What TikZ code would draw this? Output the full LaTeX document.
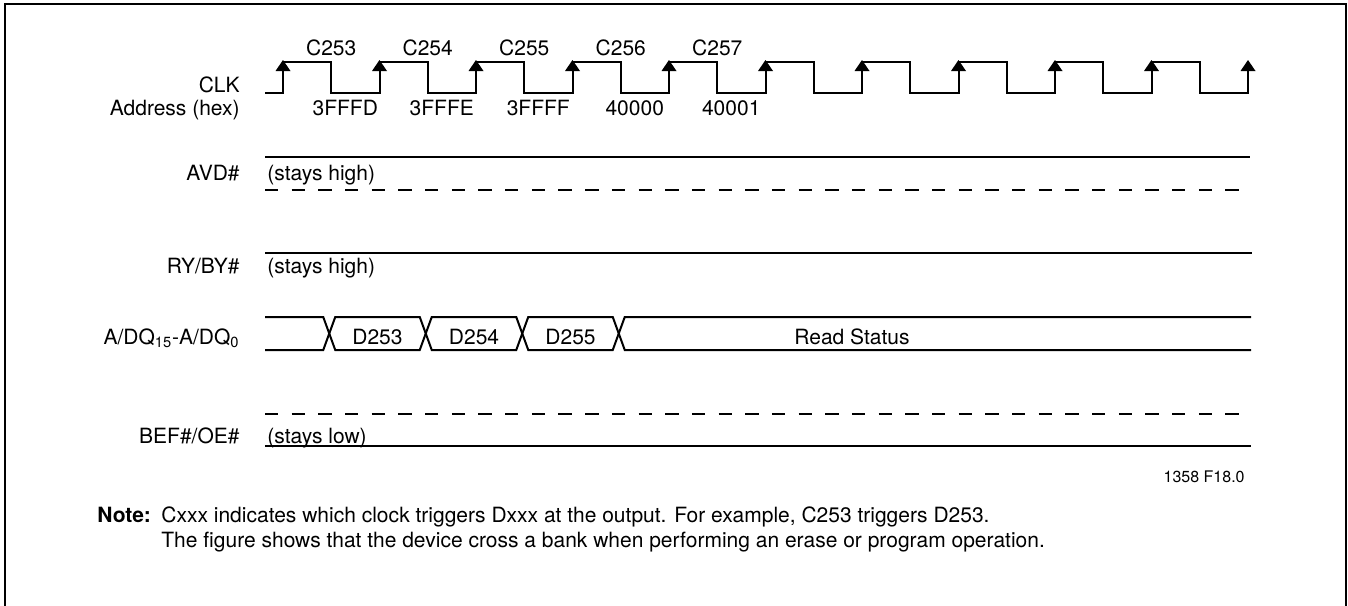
\documentclass[tikz,border=0pt]{standalone}
\usepackage{fontspec}
\setmainfont{TeX Gyre Heros}
\begin{document}
\begin{tikzpicture}[x=0.5pt,y=-0.5pt,
  sig/.style={line width=1pt,line join=miter},
  lbl/.style={font=\fontsize{10.5}{12}\selectfont, inner sep=0pt},
  small/.style={font=\fontsize{8}{10}\selectfont, inner sep=0pt},
  dashsig/.style={line width=1pt,dash pattern=on 6.67pt off 6.67pt},
  arrowtip/.style={fill=black}]
\useasboundingbox (0,0) rectangle (1348,605);
% frame
\draw[line width=1.3pt] (5,612) -- (5,4) -- (1346,4) -- (1346,612);

% signal labels
\node[lbl,anchor=base east] (clk) at (240,92) {CLK};
\node[lbl,anchor=base east] (addr) at (240,115) {Address (hex)};
\node[lbl,anchor=base east] (avd) at (240,180) {AVD\#};
\node[lbl,anchor=base east] (ry) at (240,273) {RY/BY\#};
\node[lbl,anchor=base east] (adq) at (240,344) {A/DQ\textsubscript{15}-A/DQ\textsubscript{0}};
\node[lbl,anchor=base east] (bef) at (240,443) {BEF\#/OE\#};

% clock
\draw[sig] (265,93)
  foreach \i in {0,...,9} { -- ({283+96.5*\i},93) -- ({283+96.5*\i},62) -- ({331.25+96.5*\i},62) -- ({331.25+96.5*\i},93) }
  -- (1248,93) -- (1248,64);
\foreach \i in {0,...,10}
  \fill[arrowtip] ({283+96.5*\i},60) -- ++(-7.5,11) -- ++(15,0) -- cycle;
\foreach \i/\t in {0/C253,1/C254,2/C255,3/C256,4/C257}
  \node[lbl,anchor=base] (c\i) at ({331.25+96.5*\i},55) {\t};
\foreach \i/\t in {0/3FFFD,1/3FFFE,2/3FFFF,3/40000,4/40001}
  \node[lbl,anchor=base] (ad\i) at ({345.25+96.5*\i},115.5) {\t};

% AVD#
\draw[sig] (265,157) -- (1250,157);
\draw[dashsig] (265,190) -- (1239.5,190);
\node[lbl,anchor=base west] (avdtxt) at (267,180) {(stays high)};

% RY/BY#
\draw[sig] (265,253) -- (1252,253);
\node[lbl,anchor=base west] (rytxt) at (267,273) {(stays high)};

% A/DQ bus
\draw[sig] (265,317) -- (323.25,317) -- (335.25,350) -- (419.75,350) -- (431.75,317)
  -- (516.25,317) -- (528.25,350) -- (612.75,350) -- (624.75,317) -- (1251,317);
\draw[sig] (265,350) -- (323.25,350) -- (335.25,317) -- (419.75,317) -- (431.75,350)
  -- (516.25,350) -- (528.25,317) -- (612.75,317) -- (624.75,350) -- (1251,350);
\node[lbl,anchor=base] (d253) at (377.5,344) {D253};
\node[lbl,anchor=base] (d254) at (474,344) {D254};
\node[lbl,anchor=base] (d255) at (570.5,344) {D255};
\node[lbl,anchor=base] (rs) at (852,344) {Read Status};

% BEF#/OE#
\draw[dashsig] (265,414) -- (1239.5,414);
\draw[sig] (265,446) -- (1251,446);
\node[lbl,anchor=base west] (beftxt) at (267,443) {(stays low)};

% figure id
\node[small,anchor=base east] (fid) at (1245,482) {1358 F18.0};

% note
\node[lbl,anchor=base west] (note) at (97,522) {\textbf{Note:}};
\node[lbl,anchor=base west] (n1) at (161,522) {Cxxx indicates which clock triggers Dxxx at the output. For example, C253 triggers D253.};
\node[lbl,anchor=base west] (n2) at (161,547) {The figure shows that the device cross a bank when performing an erase or program operation.};
\end{tikzpicture}
\end{document}
